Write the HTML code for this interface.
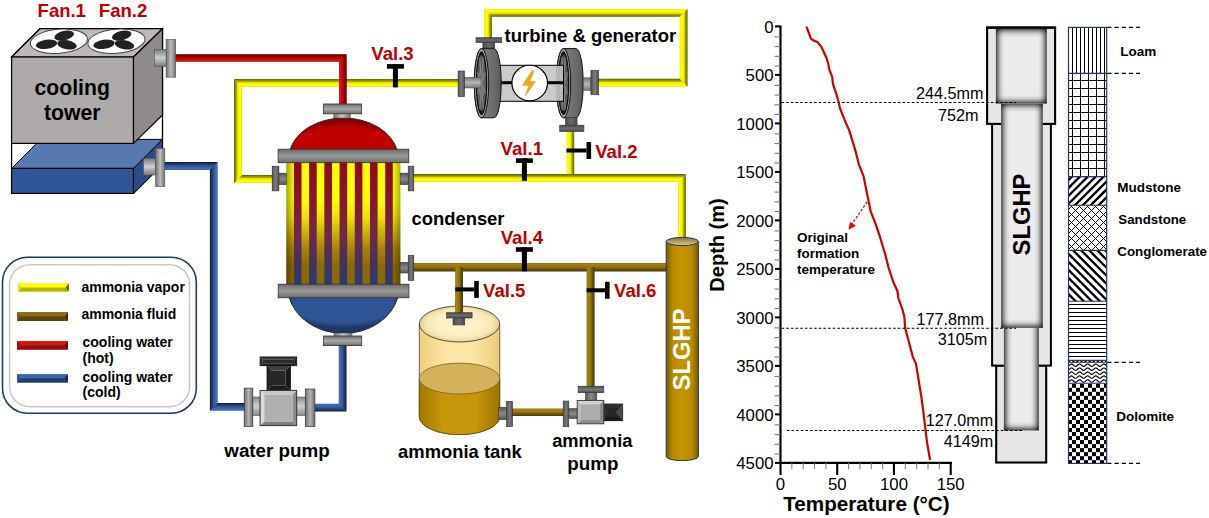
<!DOCTYPE html>
<html><head><meta charset="utf-8"><title>SLGHP system</title>
<style>
html,body{margin:0;padding:0;background:#fff;width:1209px;height:518px;overflow:hidden;}
svg{display:block;}
text{font-family:"Liberation Sans",sans-serif;}
</style></head><body>
<svg width="1209" height="518" viewBox="0 0 1209 518">
<defs><linearGradient id="g1" gradientUnits="userSpaceOnUse" x1="0" y1="175" x2="0" y2="183"><stop offset="0" stop-color="#5e5e00"/><stop offset="0.28" stop-color="#a2a200"/><stop offset="0.5" stop-color="#f4f400"/><stop offset="0.85" stop-color="#ffff00"/><stop offset="1" stop-color="#e6e600"/></linearGradient>
<linearGradient id="g2" gradientUnits="userSpaceOnUse" x1="234" y1="0" x2="242" y2="0"><stop offset="0" stop-color="#5e5e00"/><stop offset="0.28" stop-color="#a2a200"/><stop offset="0.5" stop-color="#f4f400"/><stop offset="0.85" stop-color="#ffff00"/><stop offset="1" stop-color="#e6e600"/></linearGradient>
<linearGradient id="g3" gradientUnits="userSpaceOnUse" x1="0" y1="79" x2="0" y2="87"><stop offset="0" stop-color="#5e5e00"/><stop offset="0.28" stop-color="#a2a200"/><stop offset="0.5" stop-color="#f4f400"/><stop offset="0.85" stop-color="#ffff00"/><stop offset="1" stop-color="#e6e600"/></linearGradient>
<linearGradient id="g4" gradientUnits="userSpaceOnUse" x1="0" y1="54.2" x2="0" y2="61.8"><stop offset="0" stop-color="#5a0000"/><stop offset="0.28" stop-color="#8e0000"/><stop offset="0.5" stop-color="#c00000"/><stop offset="0.85" stop-color="#d81818"/><stop offset="1" stop-color="#b80000"/></linearGradient>
<linearGradient id="g5" gradientUnits="userSpaceOnUse" x1="346.7" y1="0" x2="339.1" y2="0"><stop offset="0" stop-color="#5a0000"/><stop offset="0.28" stop-color="#8e0000"/><stop offset="0.5" stop-color="#c00000"/><stop offset="0.85" stop-color="#d81818"/><stop offset="1" stop-color="#b80000"/></linearGradient>
<linearGradient id="g6" gradientUnits="userSpaceOnUse" x1="491.95" y1="0" x2="484.05" y2="0"><stop offset="0" stop-color="#5e5e00"/><stop offset="0.28" stop-color="#a2a200"/><stop offset="0.5" stop-color="#f4f400"/><stop offset="0.85" stop-color="#ffff00"/><stop offset="1" stop-color="#e6e600"/></linearGradient>
<linearGradient id="g7" gradientUnits="userSpaceOnUse" x1="0" y1="16.85" x2="0" y2="8.95"><stop offset="0" stop-color="#5e5e00"/><stop offset="0.28" stop-color="#a2a200"/><stop offset="0.5" stop-color="#f4f400"/><stop offset="0.85" stop-color="#ffff00"/><stop offset="1" stop-color="#e6e600"/></linearGradient>
<linearGradient id="g8" gradientUnits="userSpaceOnUse" x1="687.55" y1="0" x2="679.65" y2="0"><stop offset="0" stop-color="#5e5e00"/><stop offset="0.28" stop-color="#a2a200"/><stop offset="0.5" stop-color="#f4f400"/><stop offset="0.85" stop-color="#ffff00"/><stop offset="1" stop-color="#e6e600"/></linearGradient>
<linearGradient id="g9" gradientUnits="userSpaceOnUse" x1="0" y1="78.75" x2="0" y2="86.65"><stop offset="0" stop-color="#5e5e00"/><stop offset="0.28" stop-color="#a2a200"/><stop offset="0.5" stop-color="#f4f400"/><stop offset="0.85" stop-color="#ffff00"/><stop offset="1" stop-color="#e6e600"/></linearGradient>
<linearGradient id="g10" gradientUnits="userSpaceOnUse" x1="574.2" y1="0" x2="566.6" y2="0"><stop offset="0" stop-color="#5e5e00"/><stop offset="0.28" stop-color="#a2a200"/><stop offset="0.5" stop-color="#f4f400"/><stop offset="0.85" stop-color="#ffff00"/><stop offset="1" stop-color="#e6e600"/></linearGradient>
<linearGradient id="g11" gradientUnits="userSpaceOnUse" x1="0" y1="174.1" x2="0" y2="181.9"><stop offset="0" stop-color="#5e5e00"/><stop offset="0.28" stop-color="#a2a200"/><stop offset="0.5" stop-color="#f4f400"/><stop offset="0.85" stop-color="#ffff00"/><stop offset="1" stop-color="#e6e600"/></linearGradient>
<linearGradient id="g12" gradientUnits="userSpaceOnUse" x1="685.9" y1="0" x2="678.1" y2="0"><stop offset="0" stop-color="#5e5e00"/><stop offset="0.28" stop-color="#a2a200"/><stop offset="0.5" stop-color="#f4f400"/><stop offset="0.85" stop-color="#ffff00"/><stop offset="1" stop-color="#e6e600"/></linearGradient>
<linearGradient id="g13" gradientUnits="userSpaceOnUse" x1="0" y1="271.5" x2="0" y2="262.9"><stop offset="0" stop-color="#4a3808"/><stop offset="0.28" stop-color="#6a5210"/><stop offset="0.5" stop-color="#937212"/><stop offset="0.85" stop-color="#a48218"/><stop offset="1" stop-color="#8a6c14"/></linearGradient>
<linearGradient id="g14" gradientUnits="userSpaceOnUse" x1="463" y1="0" x2="455.2" y2="0"><stop offset="0" stop-color="#4a3808"/><stop offset="0.28" stop-color="#6a5210"/><stop offset="0.5" stop-color="#937212"/><stop offset="0.85" stop-color="#a48218"/><stop offset="1" stop-color="#8a6c14"/></linearGradient>
<linearGradient id="g15" gradientUnits="userSpaceOnUse" x1="594.6" y1="0" x2="586.6" y2="0"><stop offset="0" stop-color="#4a3808"/><stop offset="0.28" stop-color="#6a5210"/><stop offset="0.5" stop-color="#937212"/><stop offset="0.85" stop-color="#a48218"/><stop offset="1" stop-color="#8a6c14"/></linearGradient>
<linearGradient id="g16" gradientUnits="userSpaceOnUse" x1="0" y1="416" x2="0" y2="408.4"><stop offset="0" stop-color="#4a3808"/><stop offset="0.28" stop-color="#6a5210"/><stop offset="0.5" stop-color="#937212"/><stop offset="0.85" stop-color="#a48218"/><stop offset="1" stop-color="#8a6c14"/></linearGradient>
<linearGradient id="g17" gradientUnits="userSpaceOnUse" x1="0" y1="162.1" x2="0" y2="169.9"><stop offset="0" stop-color="#0e1830"/><stop offset="0.28" stop-color="#233d6c"/><stop offset="0.5" stop-color="#2f5597"/><stop offset="0.85" stop-color="#4670bc"/><stop offset="1" stop-color="#3a62aa"/></linearGradient>
<linearGradient id="g18" gradientUnits="userSpaceOnUse" x1="209.9" y1="0" x2="217.7" y2="0"><stop offset="0" stop-color="#0e1830"/><stop offset="0.28" stop-color="#233d6c"/><stop offset="0.5" stop-color="#2f5597"/><stop offset="0.85" stop-color="#4670bc"/><stop offset="1" stop-color="#3a62aa"/></linearGradient>
<linearGradient id="g19" gradientUnits="userSpaceOnUse" x1="0" y1="402.9" x2="0" y2="410.7"><stop offset="0" stop-color="#0e1830"/><stop offset="0.28" stop-color="#233d6c"/><stop offset="0.5" stop-color="#2f5597"/><stop offset="0.85" stop-color="#4670bc"/><stop offset="1" stop-color="#3a62aa"/></linearGradient>
<linearGradient id="g20" gradientUnits="userSpaceOnUse" x1="0" y1="411.6" x2="0" y2="403.8"><stop offset="0" stop-color="#0e1830"/><stop offset="0.28" stop-color="#233d6c"/><stop offset="0.5" stop-color="#2f5597"/><stop offset="0.85" stop-color="#4670bc"/><stop offset="1" stop-color="#3a62aa"/></linearGradient>
<linearGradient id="g21" gradientUnits="userSpaceOnUse" x1="346.5" y1="0" x2="338.7" y2="0"><stop offset="0" stop-color="#0e1830"/><stop offset="0.28" stop-color="#233d6c"/><stop offset="0.5" stop-color="#2f5597"/><stop offset="0.85" stop-color="#4670bc"/><stop offset="1" stop-color="#3a62aa"/></linearGradient>
<linearGradient id="g22" gradientUnits="userSpaceOnUse" x1="0" y1="49.4" x2="0" y2="66.4"><stop offset="0" stop-color="#7a7a7a"/><stop offset="0.5" stop-color="#cfcfcf"/><stop offset="1" stop-color="#7a7a7a"/></linearGradient>
<linearGradient id="g23" gradientUnits="userSpaceOnUse" x1="166.1" y1="0" x2="175.7" y2="0"><stop offset="0" stop-color="#6e6e6e"/><stop offset="0.5" stop-color="#bdbdbd"/><stop offset="1" stop-color="#6e6e6e"/></linearGradient>
<linearGradient id="g24" gradientUnits="userSpaceOnUse" x1="0" y1="158.4" x2="0" y2="175"><stop offset="0" stop-color="#7a7a7a"/><stop offset="0.5" stop-color="#cfcfcf"/><stop offset="1" stop-color="#7a7a7a"/></linearGradient>
<linearGradient id="g25" gradientUnits="userSpaceOnUse" x1="155.6" y1="0" x2="164.8" y2="0"><stop offset="0" stop-color="#6e6e6e"/><stop offset="0.5" stop-color="#bdbdbd"/><stop offset="1" stop-color="#6e6e6e"/></linearGradient>
<linearGradient id="g26" gradientUnits="userSpaceOnUse" x1="0" y1="117" x2="0" y2="150"><stop offset="0" stop-color="#c00000"/><stop offset="1" stop-color="#c00000"/></linearGradient>
<radialGradient id="domeR" cx="0.5" cy="0.75" r="0.6"><stop offset="0.75" stop-color="#c00000"/><stop offset="1" stop-color="#8a0000"/></radialGradient>
<radialGradient id="domeB" cx="0.5" cy="0.25" r="0.6"><stop offset="0.75" stop-color="#2f5597"/><stop offset="1" stop-color="#1d3868"/></radialGradient>
<linearGradient id="g27" gradientUnits="userSpaceOnUse" x1="0" y1="163" x2="0" y2="284"><stop offset="0" stop-color="#ffff00"/><stop offset="0.3" stop-color="#ffff00"/><stop offset="0.45" stop-color="#f0e000"/><stop offset="0.7" stop-color="#a88600"/><stop offset="0.85" stop-color="#8a6a00"/><stop offset="1" stop-color="#8a6a00"/></linearGradient>
<linearGradient id="g28" gradientUnits="userSpaceOnUse" x1="0" y1="163" x2="0" y2="284"><stop offset="0" stop-color="#8e0a1c"/><stop offset="0.3" stop-color="#86162a"/><stop offset="0.6" stop-color="#6e2850"/><stop offset="0.8" stop-color="#4a2e62"/><stop offset="1" stop-color="#2a3a78"/></linearGradient>
<linearGradient id="bodyEdge" x1="0" y1="0" x2="1" y2="0"><stop offset="0" stop-color="#000" stop-opacity="0.35"/><stop offset="0.07" stop-color="#000" stop-opacity="0"/><stop offset="0.93" stop-color="#000" stop-opacity="0"/><stop offset="1" stop-color="#000" stop-opacity="0.3"/></linearGradient>
<linearGradient id="g29" gradientUnits="userSpaceOnUse" x1="0" y1="149.2" x2="0" y2="162.7"><stop offset="0" stop-color="#6a6a6a"/><stop offset="0.5" stop-color="#9c9c9c"/><stop offset="1" stop-color="#6a6a6a"/></linearGradient>
<linearGradient id="g30" gradientUnits="userSpaceOnUse" x1="0" y1="284.2" x2="0" y2="297.8"><stop offset="0" stop-color="#6a6a6a"/><stop offset="0.5" stop-color="#9c9c9c"/><stop offset="1" stop-color="#6a6a6a"/></linearGradient>
<linearGradient id="g31" gradientUnits="userSpaceOnUse" x1="333.8" y1="0" x2="350.3" y2="0"><stop offset="0" stop-color="#777"/><stop offset="0.5" stop-color="#c8c8c8"/><stop offset="1" stop-color="#777"/></linearGradient>
<linearGradient id="g32" gradientUnits="userSpaceOnUse" x1="0" y1="104" x2="0" y2="113.8"><stop offset="0" stop-color="#6e6e6e"/><stop offset="0.5" stop-color="#a8a8a8"/><stop offset="1" stop-color="#6e6e6e"/></linearGradient>
<linearGradient id="g33" gradientUnits="userSpaceOnUse" x1="334" y1="0" x2="352" y2="0"><stop offset="0" stop-color="#777"/><stop offset="0.5" stop-color="#c8c8c8"/><stop offset="1" stop-color="#777"/></linearGradient>
<linearGradient id="g34" gradientUnits="userSpaceOnUse" x1="0" y1="336" x2="0" y2="345.6"><stop offset="0" stop-color="#6e6e6e"/><stop offset="0.5" stop-color="#a8a8a8"/><stop offset="1" stop-color="#6e6e6e"/></linearGradient>
<linearGradient id="g35" gradientUnits="userSpaceOnUse" x1="0" y1="173.1" x2="0" y2="184.7"><stop offset="0" stop-color="#555"/><stop offset="0.5" stop-color="#8a8a8a"/><stop offset="1" stop-color="#555"/></linearGradient>
<linearGradient id="g36" gradientUnits="userSpaceOnUse" x1="272.2" y1="0" x2="278.9" y2="0"><stop offset="0" stop-color="#505050"/><stop offset="0.5" stop-color="#7c7c7c"/><stop offset="1" stop-color="#505050"/></linearGradient>
<linearGradient id="g37" gradientUnits="userSpaceOnUse" x1="0" y1="173.1" x2="0" y2="184.7"><stop offset="0" stop-color="#555"/><stop offset="0.5" stop-color="#8a8a8a"/><stop offset="1" stop-color="#555"/></linearGradient>
<linearGradient id="g38" gradientUnits="userSpaceOnUse" x1="408.2" y1="0" x2="413.8" y2="0"><stop offset="0" stop-color="#505050"/><stop offset="0.5" stop-color="#7c7c7c"/><stop offset="1" stop-color="#505050"/></linearGradient>
<linearGradient id="g39" gradientUnits="userSpaceOnUse" x1="0" y1="262.3" x2="0" y2="273"><stop offset="0" stop-color="#555"/><stop offset="0.5" stop-color="#8a8a8a"/><stop offset="1" stop-color="#555"/></linearGradient>
<linearGradient id="g40" gradientUnits="userSpaceOnUse" x1="408.2" y1="0" x2="413.8" y2="0"><stop offset="0" stop-color="#505050"/><stop offset="0.5" stop-color="#7c7c7c"/><stop offset="1" stop-color="#505050"/></linearGradient>
<linearGradient id="g41" gradientUnits="userSpaceOnUse" x1="556.3" y1="0" x2="583.2" y2="0"><stop offset="0" stop-color="#5a5a5a"/><stop offset="0.4" stop-color="#7a7a7a"/><stop offset="0.75" stop-color="#6a6a6a"/><stop offset="1" stop-color="#5a5a5a"/></linearGradient>
<linearGradient id="g42" gradientUnits="userSpaceOnUse" x1="474.3" y1="0" x2="501.2" y2="0"><stop offset="0" stop-color="#5a5a5a"/><stop offset="0.4" stop-color="#7a7a7a"/><stop offset="0.75" stop-color="#6a6a6a"/><stop offset="1" stop-color="#5a5a5a"/></linearGradient>
<linearGradient id="g43" gradientUnits="userSpaceOnUse" x1="0" y1="77.3" x2="0" y2="88"><stop offset="0" stop-color="#777"/><stop offset="0.5" stop-color="#b8b8b8"/><stop offset="1" stop-color="#777"/></linearGradient>
<linearGradient id="g44" gradientUnits="userSpaceOnUse" x1="458.1" y1="0" x2="464.5" y2="0"><stop offset="0" stop-color="#505050"/><stop offset="0.5" stop-color="#7c7c7c"/><stop offset="1" stop-color="#505050"/></linearGradient>
<linearGradient id="g45" gradientUnits="userSpaceOnUse" x1="0" y1="77.8" x2="0" y2="90.5"><stop offset="0" stop-color="#777"/><stop offset="0.5" stop-color="#b8b8b8"/><stop offset="1" stop-color="#777"/></linearGradient>
<linearGradient id="g46" gradientUnits="userSpaceOnUse" x1="590.9" y1="0" x2="598.7" y2="0"><stop offset="0" stop-color="#505050"/><stop offset="0.5" stop-color="#7c7c7c"/><stop offset="1" stop-color="#505050"/></linearGradient>
<linearGradient id="g47" gradientUnits="userSpaceOnUse" x1="482.8" y1="0" x2="494.8" y2="0"><stop offset="0" stop-color="#4a4a4a"/><stop offset="0.5" stop-color="#6a6a6a"/><stop offset="1" stop-color="#4a4a4a"/></linearGradient>
<linearGradient id="g48" gradientUnits="userSpaceOnUse" x1="0" y1="37.7" x2="0" y2="42.6"><stop offset="0" stop-color="#4a4a4a"/><stop offset="0.5" stop-color="#6c6c6c"/><stop offset="1" stop-color="#4a4a4a"/></linearGradient>
<linearGradient id="g49" gradientUnits="userSpaceOnUse" x1="565.4" y1="0" x2="577.1" y2="0"><stop offset="0" stop-color="#4a4a4a"/><stop offset="0.5" stop-color="#6a6a6a"/><stop offset="1" stop-color="#4a4a4a"/></linearGradient>
<linearGradient id="g50" gradientUnits="userSpaceOnUse" x1="0" y1="125.2" x2="0" y2="131.5"><stop offset="0" stop-color="#4a4a4a"/><stop offset="0.5" stop-color="#6c6c6c"/><stop offset="1" stop-color="#4a4a4a"/></linearGradient>
<linearGradient id="tankUp" x1="0" y1="0" x2="1" y2="0"><stop offset="0" stop-color="#f0cf78"/><stop offset="0.35" stop-color="#fde7a8"/><stop offset="0.65" stop-color="#fde7a8"/><stop offset="1" stop-color="#eccb78"/></linearGradient>
<linearGradient id="tankLo" x1="0" y1="0" x2="1" y2="0"><stop offset="0" stop-color="#a07800"/><stop offset="0.3" stop-color="#c8960a"/><stop offset="0.7" stop-color="#c8960a"/><stop offset="1" stop-color="#9a7400"/></linearGradient>
<radialGradient id="tankTop" cx="0.5" cy="0.5" r="0.5"><stop offset="0.55" stop-color="#fdf0c4"/><stop offset="0.85" stop-color="#f6e6b0"/><stop offset="1" stop-color="#dccb90"/></radialGradient>
<linearGradient id="g51" gradientUnits="userSpaceOnUse" x1="463" y1="0" x2="455.2" y2="0"><stop offset="0" stop-color="#4a3808"/><stop offset="0.28" stop-color="#6a5210"/><stop offset="0.5" stop-color="#937212"/><stop offset="0.85" stop-color="#a48218"/><stop offset="1" stop-color="#8a6c14"/></linearGradient>
<linearGradient id="g52" gradientUnits="userSpaceOnUse" x1="453" y1="0" x2="464.8" y2="0"><stop offset="0" stop-color="#4a4a4a"/><stop offset="0.5" stop-color="#6a6a6a"/><stop offset="1" stop-color="#4a4a4a"/></linearGradient>
<linearGradient id="g53" gradientUnits="userSpaceOnUse" x1="0" y1="312.7" x2="0" y2="318"><stop offset="0" stop-color="#4a4a4a"/><stop offset="0.5" stop-color="#6c6c6c"/><stop offset="1" stop-color="#4a4a4a"/></linearGradient>
<linearGradient id="g54" gradientUnits="userSpaceOnUse" x1="0" y1="407.2" x2="0" y2="419.7"><stop offset="0" stop-color="#555"/><stop offset="0.5" stop-color="#8a8a8a"/><stop offset="1" stop-color="#555"/></linearGradient>
<linearGradient id="g55" gradientUnits="userSpaceOnUse" x1="506.5" y1="0" x2="512.5" y2="0"><stop offset="0" stop-color="#505050"/><stop offset="0.5" stop-color="#7c7c7c"/><stop offset="1" stop-color="#505050"/></linearGradient>
<linearGradient id="g56" gradientUnits="userSpaceOnUse" x1="0" y1="408.5" x2="0" y2="418.6"><stop offset="0" stop-color="#555"/><stop offset="0.5" stop-color="#8a8a8a"/><stop offset="1" stop-color="#555"/></linearGradient>
<linearGradient id="g57" gradientUnits="userSpaceOnUse" x1="563.2" y1="0" x2="568.8" y2="0"><stop offset="0" stop-color="#505050"/><stop offset="0.5" stop-color="#7c7c7c"/><stop offset="1" stop-color="#505050"/></linearGradient>
<linearGradient id="g58" gradientUnits="userSpaceOnUse" x1="585.3" y1="0" x2="596.8" y2="0"><stop offset="0" stop-color="#555"/><stop offset="0.5" stop-color="#8a8a8a"/><stop offset="1" stop-color="#555"/></linearGradient>
<linearGradient id="g59" gradientUnits="userSpaceOnUse" x1="0" y1="386.2" x2="0" y2="392.7"><stop offset="0" stop-color="#4f4f4f"/><stop offset="0.5" stop-color="#777"/><stop offset="1" stop-color="#4f4f4f"/></linearGradient>
<linearGradient id="g60" gradientUnits="userSpaceOnUse" x1="0" y1="397" x2="0" y2="415.6"><stop offset="0" stop-color="#8a8a8a"/><stop offset="0.5" stop-color="#d0d0d0"/><stop offset="1" stop-color="#8a8a8a"/></linearGradient>
<linearGradient id="g61" gradientUnits="userSpaceOnUse" x1="0" y1="397" x2="0" y2="415.6"><stop offset="0" stop-color="#8a8a8a"/><stop offset="0.5" stop-color="#d0d0d0"/><stop offset="1" stop-color="#8a8a8a"/></linearGradient>
<linearGradient id="g62" gradientUnits="userSpaceOnUse" x1="244.2" y1="0" x2="252.8" y2="0"><stop offset="0" stop-color="#6e6e6e"/><stop offset="0.5" stop-color="#b4b4b4"/><stop offset="1" stop-color="#6e6e6e"/></linearGradient>
<linearGradient id="g63" gradientUnits="userSpaceOnUse" x1="305.3" y1="0" x2="314.9" y2="0"><stop offset="0" stop-color="#6e6e6e"/><stop offset="0.5" stop-color="#b4b4b4"/><stop offset="1" stop-color="#6e6e6e"/></linearGradient>
<linearGradient id="slg" x1="0" y1="0" x2="1" y2="0"><stop offset="0" stop-color="#7a5c00"/><stop offset="0.2" stop-color="#b88a00"/><stop offset="0.5" stop-color="#c69400"/><stop offset="0.8" stop-color="#b88a00"/><stop offset="1" stop-color="#7a5c00"/></linearGradient>
<linearGradient id="slgTop" x1="0" y1="0" x2="0" y2="1"><stop offset="0" stop-color="#8a6e30"/><stop offset="1" stop-color="#e0cc90"/></linearGradient>
<linearGradient id="shL" x1="0" y1="0" x2="1" y2="0"><stop offset="0" stop-color="#000" stop-opacity="0.72"/><stop offset="0.25" stop-color="#000" stop-opacity="0.42"/><stop offset="0.6" stop-color="#000" stop-opacity="0.12"/><stop offset="1" stop-color="#000" stop-opacity="0"/></linearGradient>
<linearGradient id="shR" x1="1" y1="0" x2="0" y2="0"><stop offset="0" stop-color="#000" stop-opacity="0.72"/><stop offset="0.25" stop-color="#000" stop-opacity="0.42"/><stop offset="0.6" stop-color="#000" stop-opacity="0.12"/><stop offset="1" stop-color="#000" stop-opacity="0"/></linearGradient>
<linearGradient id="shT" x1="0" y1="0" x2="0" y2="1"><stop offset="0" stop-color="#000" stop-opacity="0.72"/><stop offset="0.25" stop-color="#000" stop-opacity="0.42"/><stop offset="0.6" stop-color="#000" stop-opacity="0.12"/><stop offset="1" stop-color="#000" stop-opacity="0"/></linearGradient>
<linearGradient id="shB" x1="0" y1="1" x2="0" y2="0"><stop offset="0" stop-color="#000" stop-opacity="0.72"/><stop offset="0.25" stop-color="#000" stop-opacity="0.42"/><stop offset="0.6" stop-color="#000" stop-opacity="0.12"/><stop offset="1" stop-color="#000" stop-opacity="0"/></linearGradient>
<clipPath id="cMud"><rect x="1068.5" y="176.6" width="38.2" height="28.6"/></clipPath>
<clipPath id="cSand"><rect x="1068.5" y="205.2" width="38.2" height="45.4"/></clipPath>
<clipPath id="cCong"><rect x="1068.5" y="250.6" width="38.2" height="50.5"/></clipPath>
<clipPath id="cWave"><rect x="1068.5" y="362.6" width="38.2" height="20.7"/></clipPath>
<clipPath id="cChk"><rect x="1068.5" y="383.6" width="38.2" height="79.9"/></clipPath></defs>
<rect width="1209" height="518" fill="#fff"/>
<polyline points="273,179 238,179 238,83 459,83" fill="none" stroke="#f4f400" stroke-width="6.8" stroke-linejoin="miter"/>
<polygon points="273,175 242,175 234,183 273,183" fill="url(#g1)"/>
<polygon points="242,175 242,87 234,79 234,183" fill="url(#g2)"/>
<polygon points="242,87 459,87 459,79 234,79" fill="url(#g3)"/>
<polyline points="175,58 342.9,58 342.9,105" fill="none" stroke="#c00000" stroke-width="6.4" stroke-linejoin="miter"/>
<polygon points="175,61.8 339.1,61.8 346.7,54.2 175,54.2" fill="url(#g4)"/>
<polygon points="339.1,61.8 339.1,105 346.7,105 346.7,54.2" fill="url(#g5)"/>
<polyline points="488,39 488,12.9 683.6,12.9 683.6,82.7 598,82.7" fill="none" stroke="#f4f400" stroke-width="6.7" stroke-linejoin="miter"/>
<polygon points="491.95,39 491.95,16.85 484.05,8.95 484.05,39" fill="url(#g6)"/>
<polygon points="491.95,16.85 679.65,16.85 687.55,8.95 484.05,8.95" fill="url(#g7)"/>
<polygon points="679.65,16.85 679.65,78.75 687.55,86.65 687.55,8.95" fill="url(#g8)"/>
<polygon points="679.65,78.75 598,78.75 598,86.65 687.55,86.65" fill="url(#g9)"/>
<polyline points="570.4,131 570.4,178" fill="none" stroke="#f4f400" stroke-width="6.4" stroke-linejoin="miter"/>
<polygon points="566.6,131 566.6,178 574.2,178 574.2,131" fill="url(#g10)"/>
<polyline points="412,178 682,178 682,240" fill="none" stroke="#f4f400" stroke-width="6.6" stroke-linejoin="miter"/>
<polygon points="412,181.9 678.1,181.9 685.9,174.1 412,174.1" fill="url(#g11)"/>
<polygon points="678.1,181.9 678.1,240 685.9,240 685.9,174.1" fill="url(#g12)"/>
<polyline points="412,267.2 667,267.2" fill="none" stroke="#937212" stroke-width="7.4" stroke-linejoin="miter"/>
<polygon points="412,271.5 667,271.5 667,262.9 412,262.9" fill="url(#g13)"/>
<polyline points="459.1,267.2 459.1,314" fill="none" stroke="#937212" stroke-width="6.6" stroke-linejoin="miter"/>
<polygon points="455.2,267.2 455.2,314 463,314 463,267.2" fill="url(#g14)"/>
<polyline points="590.6,267.2 590.6,387" fill="none" stroke="#937212" stroke-width="6.8" stroke-linejoin="miter"/>
<polygon points="586.6,267.2 586.6,387 594.6,387 594.6,267.2" fill="url(#g15)"/>
<polyline points="511,412.2 564,412.2" fill="none" stroke="#937212" stroke-width="6.4" stroke-linejoin="miter"/>
<polygon points="511,416 564,416 564,408.4 511,408.4" fill="url(#g16)"/>
<polyline points="164,166 213.8,166 213.8,406.8 245,406.8" fill="none" stroke="#2f5597" stroke-width="6.6" stroke-linejoin="miter"/>
<polygon points="164,169.9 209.9,169.9 217.7,162.1 164,162.1" fill="url(#g17)"/>
<polygon points="209.9,169.9 209.9,410.7 217.7,402.9 217.7,162.1" fill="url(#g18)"/>
<polygon points="209.9,410.7 245,410.7 245,402.9 217.7,402.9" fill="url(#g19)"/>
<polyline points="314,407.7 342.6,407.7 342.6,345" fill="none" stroke="#2f5597" stroke-width="6.6" stroke-linejoin="miter"/>
<polygon points="314,411.6 346.5,411.6 338.7,403.8 314,403.8" fill="url(#g20)"/>
<polygon points="346.5,411.6 346.5,345 338.7,345 338.7,403.8" fill="url(#g21)"/>
<polygon points="11.6,57 40,28.7 162.5,28.7 162.5,164.5 133.5,193.4 11.6,193.4" fill="#fff" stroke="#000" stroke-width="1.3"/>
<polygon points="11.6,168.4 40.5,139.4 162.5,139.4 133.5,168.4" fill="#5878b2" stroke="#000" stroke-width="1"/>
<rect x="11.6" y="168.4" width="121.9" height="25" fill="#2f5597" stroke="#000" stroke-width="1.2"/>
<polygon points="133.5,168.4 162.5,139.4 162.5,164.5 133.5,193.4" fill="#294b8a" stroke="#000" stroke-width="1"/>
<polygon points="11.6,57 40,28.7 162.5,28.7 133.5,57" fill="#bdb9b9" stroke="#000" stroke-width="1.2"/>
<rect x="11.6" y="57" width="121.9" height="86.4" fill="#aeaaaa" stroke="#000" stroke-width="1.2"/>
<polygon points="133.5,57 162.5,28.7 162.5,114.9 133.5,143.4" fill="#8f8b8b" stroke="#000" stroke-width="1.2"/>
<ellipse cx="58.9" cy="41.3" rx="28.7" ry="12" fill="#fff" stroke="#444" stroke-width="1" transform="rotate(-5 58.9 41.3)"/>
<g fill="#222" transform="translate(58.9,41.2)"><ellipse cx="5.3" cy="-5.6" rx="10" ry="4.7" transform="rotate(-14 5.3 -5.6)"/><ellipse cx="-12.4" cy="3.1" rx="10.8" ry="4.5" transform="rotate(-8 -12.4 3.1)"/><ellipse cx="8.1" cy="3.6" rx="9.9" ry="4.5" transform="rotate(10 8.1 3.6)"/></g>
<ellipse cx="116.4" cy="41.3" rx="28.7" ry="12" fill="#fff" stroke="#444" stroke-width="1" transform="rotate(-5 116.4 41.3)"/>
<g fill="#222" transform="translate(116.4,41.2)"><ellipse cx="5.3" cy="-5.6" rx="10" ry="4.7" transform="rotate(-14 5.3 -5.6)"/><ellipse cx="-12.4" cy="3.1" rx="10.8" ry="4.5" transform="rotate(-8 -12.4 3.1)"/><ellipse cx="8.1" cy="3.6" rx="9.9" ry="4.5" transform="rotate(10 8.1 3.6)"/></g>
<text x="72.2" y="94.9" font-size="21.2" font-weight="bold" fill="#000" text-anchor="middle" >cooling</text>
<text x="72.2" y="119.6" font-size="21.2" font-weight="bold" fill="#000" text-anchor="middle" >tower</text>
<rect x="154.4" y="49.4" width="12" height="17" fill="url(#g22)" stroke="#555" stroke-width="0.6"/>
<rect x="166.1" y="39.4" width="9.6" height="37.8" fill="url(#g23)" stroke="#555" stroke-width="0.6"/>
<rect x="143.5" y="158.4" width="12.1" height="16.6" fill="url(#g24)" stroke="#555" stroke-width="0.6"/>
<rect x="155.6" y="148.4" width="9.2" height="38.2" fill="url(#g25)" stroke="#555" stroke-width="0.6"/>
<text x="37.6" y="16.7" font-size="18.5" font-weight="bold" fill="#c00000" text-anchor="start" >Fan.1</text>
<text x="98.8" y="16.7" font-size="18.6" font-weight="bold" fill="#c00000" text-anchor="start" >Fan.2</text>
<path d="M289.6,151 A55,41.2 0 0 1 397.4,151 Z" fill="url(#domeR)" stroke="#222" stroke-width="1"/>
<path d="M288.9,296.5 A56,47.5 0 0 0 398.1,296.5 Z" fill="url(#domeB)" stroke="#222" stroke-width="1"/>
<rect x="286.3" y="162" width="114.1" height="123" fill="url(#g27)"/>
<rect x="293.91" y="162" width="7.61" height="123" fill="url(#g28)"/>
<rect x="309.12" y="162" width="7.61" height="123" fill="url(#g28)"/>
<rect x="324.33" y="162" width="7.61" height="123" fill="url(#g28)"/>
<rect x="339.55" y="162" width="7.61" height="123" fill="url(#g28)"/>
<rect x="354.76" y="162" width="7.61" height="123" fill="url(#g28)"/>
<rect x="369.97" y="162" width="7.61" height="123" fill="url(#g28)"/>
<rect x="385.19" y="162" width="7.61" height="123" fill="url(#g28)"/>
<rect x="286.3" y="162" width="114.1" height="123" fill="url(#bodyEdge)"/>
<rect x="278.1" y="149.2" width="130.7" height="13.5" fill="url(#g29)" stroke="#333" stroke-width="0.8"/>
<rect x="278.2" y="284.2" width="130.7" height="13.6" fill="url(#g30)" stroke="#333" stroke-width="0.8"/>
<rect x="333.8" y="113" width="16.5" height="5" fill="url(#g31)" stroke="#444" stroke-width="0.5"/>
<rect x="323.4" y="104" width="38.2" height="9.8" fill="url(#g32)" stroke="#333" stroke-width="0.8"/>
<rect x="334" y="333" width="18" height="3.5" fill="url(#g33)" stroke="#444" stroke-width="0.5"/>
<rect x="323.4" y="336" width="38.3" height="9.6" fill="url(#g34)" stroke="#333" stroke-width="0.8"/>
<rect x="278.9" y="173.1" width="7.6" height="11.6" fill="url(#g35)" stroke="#333" stroke-width="0.5"/>
<rect x="272.2" y="166.2" width="6.7" height="24.7" fill="url(#g36)" stroke="#333" stroke-width="0.6"/>
<rect x="400.2" y="173.1" width="8" height="11.6" fill="url(#g37)" stroke="#333" stroke-width="0.5"/>
<rect x="408.2" y="166.2" width="5.6" height="24.7" fill="url(#g38)" stroke="#333" stroke-width="0.6"/>
<rect x="400.2" y="262.3" width="8" height="10.7" fill="url(#g39)" stroke="#333" stroke-width="0.5"/>
<rect x="408.2" y="255.3" width="5.6" height="25.1" fill="url(#g40)" stroke="#333" stroke-width="0.6"/>
<text x="411.5" y="225.2" font-size="18.4" font-weight="bold" fill="#000" text-anchor="start" >condenser</text>
<path d="M563.5,48.6 L576,48.6 A7.2,34.6 0 0 1 576,117.8 L563.5,117.8 A7.2,34.6 0 0 1 563.5,48.6 Z" fill="url(#g41)" stroke="#111" stroke-width="1"/>
<ellipse cx="563.5" cy="83.2" rx="7.2" ry="34.6" fill="#a8a8a8" stroke="#111" stroke-width="1"/>
<ellipse cx="563.5" cy="83.2" rx="5.8" ry="32" fill="#111"/>
<ellipse cx="563.5" cy="83.2" rx="4.5" ry="28.1" fill="#585858"/>
<path d="M563.5,83.2 L567.66,93.95 M563.5,83.2 L565.22,109.16 M563.5,83.2 L561.78,109.16 M563.5,83.2 L559.34,93.95 M563.5,83.2 L559.34,72.45 M563.5,83.2 L561.78,57.24 M563.5,83.2 L565.22,57.24 M563.5,83.2 L567.66,72.45" stroke="#a0a0a0" stroke-width="0.7" fill="none"/>
<ellipse cx="563.5" cy="83.2" rx="2.48" ry="15.46" fill="none" stroke="#8a8a8a" stroke-width="0.6"/>
<rect x="495" y="65.3" width="68.5" height="36" fill="#c4c4c4" fill-opacity="0.88" stroke="#000" stroke-width="1"/>
<rect x="495" y="81.2" width="68.5" height="3" fill="#000"/>
<path d="M481.5,48.6 L494,48.6 A7.2,34.6 0 0 1 494,117.8 L481.5,117.8 A7.2,34.6 0 0 1 481.5,48.6 Z" fill="url(#g42)" stroke="#111" stroke-width="1"/>
<ellipse cx="481.5" cy="83.2" rx="7.2" ry="34.6" fill="#a8a8a8" stroke="#111" stroke-width="1"/>
<ellipse cx="481.5" cy="83.2" rx="5.8" ry="32" fill="#111"/>
<ellipse cx="481.5" cy="83.2" rx="4.5" ry="28.1" fill="#585858"/>
<path d="M481.5,83.2 L485.66,93.95 M481.5,83.2 L483.22,109.16 M481.5,83.2 L479.78,109.16 M481.5,83.2 L477.34,93.95 M481.5,83.2 L477.34,72.45 M481.5,83.2 L479.78,57.24 M481.5,83.2 L483.22,57.24 M481.5,83.2 L485.66,72.45" stroke="#a0a0a0" stroke-width="0.7" fill="none"/>
<ellipse cx="481.5" cy="83.2" rx="2.48" ry="15.46" fill="none" stroke="#8a8a8a" stroke-width="0.6"/>
<rect x="464.5" y="77.3" width="16.5" height="10.7" fill="url(#g43)" stroke="#444" stroke-width="0.5"/>
<rect x="458.1" y="71" width="6.4" height="25.6" fill="url(#g44)" stroke="#333" stroke-width="0.6"/>
<rect x="583.5" y="77.8" width="7.4" height="12.7" fill="url(#g45)" stroke="#444" stroke-width="0.5"/>
<rect x="590.9" y="70.4" width="7.8" height="24.4" fill="url(#g46)" stroke="#333" stroke-width="0.6"/>
<rect x="482.8" y="42.3" width="12" height="5.7" fill="url(#g47)" stroke="#333" stroke-width="0.5"/>
<rect x="476" y="37.7" width="25.8" height="4.9" fill="url(#g48)" stroke="#333" stroke-width="0.6"/>
<rect x="565.4" y="117.4" width="11.7" height="7.8" fill="url(#g49)" stroke="#333" stroke-width="0.5"/>
<rect x="559.7" y="125.2" width="24.2" height="6.3" fill="url(#g50)" stroke="#333" stroke-width="0.6"/>
<circle cx="529.7" cy="83.05" r="17.8" fill="#fff" stroke="#000" stroke-width="1.2"/>
<path d="M531.6,71 L534.2,71 L529.9,81.5 L535.6,81.5 L525.3,96 L528.6,85.5 L522.3,85.5 Z" fill="#e6a82a" stroke="#e6a82a" stroke-width="0.6" stroke-linejoin="round"/>
<text x="504.6" y="41.9" font-size="18.5" font-weight="bold" fill="#000" text-anchor="start" >turbine &amp; generator</text>
<path d="M419.3,324 L419.3,416.6 A40.2,18 0 0 0 499.7,416.6 L499.7,324 Z" fill="url(#tankUp)" stroke="#555" stroke-width="0.9"/>
<path d="M419.3,378.6 L419.3,416.6 A40.2,18 0 0 0 499.7,416.6 L499.7,378.6 Z" fill="url(#tankLo)" stroke="#6a5200" stroke-width="0.9"/>
<ellipse cx="459.5" cy="378.6" rx="40.2" ry="15.5" fill="#d4b25c" stroke="#7a6020" stroke-width="0.8"/>
<ellipse cx="459.5" cy="324" rx="40.2" ry="18" fill="url(#tankTop)" stroke="#444" stroke-width="0.9"/>
<polyline points="459.1,300 459.1,313.5" fill="none" stroke="#937212" stroke-width="6.6" stroke-linejoin="miter"/>
<polygon points="455.2,300 455.2,313.5 463,313.5 463,300" fill="url(#g51)"/>
<rect x="453" y="317.5" width="11.8" height="7.5" fill="url(#g52)" stroke="#333" stroke-width="0.5"/>
<rect x="446.5" y="312.7" width="25.6" height="5.3" fill="url(#g53)" stroke="#333" stroke-width="0.6"/>
<rect x="498.7" y="407.2" width="7.8" height="12.5" fill="url(#g54)" stroke="#333" stroke-width="0.5"/>
<rect x="506.5" y="401.4" width="6" height="25.3" fill="url(#g55)" stroke="#333" stroke-width="0.6"/>
<text x="459.9" y="458.1" font-size="18.4" font-weight="bold" fill="#000" text-anchor="middle" >ammonia tank</text>
<rect x="568.8" y="408.5" width="8.4" height="10.1" fill="url(#g56)" stroke="#333" stroke-width="0.5"/>
<rect x="563.2" y="401" width="5.6" height="25.8" fill="url(#g57)" stroke="#333" stroke-width="0.6"/>
<rect x="585.3" y="392.7" width="11.5" height="7.7" fill="url(#g58)" stroke="#333" stroke-width="0.5"/>
<rect x="578.1" y="386.2" width="25.7" height="6.5" fill="url(#g59)" stroke="#333" stroke-width="0.6"/>
<rect x="603.8" y="404" width="18.9" height="16.7" fill="#262626" stroke="#111" stroke-width="0.8"/>
<polygon points="603.8,404 622.7,404 618.5,408 608,408" fill="#2e2e2e"/>
<polygon points="603.8,420.7 622.7,420.7 618.5,416.7 608,416.7" fill="#1a1a1a"/>
<polygon points="622.7,404 622.7,420.7 615.5,412.35" fill="#4a4a4a"/>
<polygon points="603.8,404 603.8,420.7 608.5,412.35" fill="#303030"/>
<polygon points="577.2,400.4 603.8,400.4 600,404.2 581,404.2" fill="#d2d2d2"/>
<polygon points="577.2,423.8 603.8,423.8 600,420 581,420" fill="#8e8e8e"/>
<polygon points="577.2,400.4 581,404.2 581,420 577.2,423.8" fill="#bcbcbc"/>
<polygon points="603.8,400.4 600,404.2 600,420 603.8,423.8" fill="#8a8a8a"/>
<rect x="581" y="404.2" width="19" height="15.8" fill="#adadad"/>
<rect x="577.2" y="400.4" width="26.6" height="23.4" fill="none" stroke="#333" stroke-width="0.9"/>
<text x="592.3" y="447.3" font-size="18.3" font-weight="bold" fill="#000" text-anchor="middle" >ammonia</text>
<text x="592.8" y="470.1" font-size="18.8" font-weight="bold" fill="#000" text-anchor="middle" >pump</text>
<rect x="252.8" y="397" width="7.3" height="18.6" fill="url(#g60)" stroke="#444" stroke-width="0.5"/>
<rect x="296.7" y="397" width="8.6" height="18.6" fill="url(#g61)" stroke="#444" stroke-width="0.5"/>
<rect x="244.2" y="388.1" width="8.6" height="38.3" fill="url(#g62)" stroke="#333" stroke-width="0.7"/>
<rect x="305.3" y="389" width="9.6" height="37.4" fill="url(#g63)" stroke="#333" stroke-width="0.7"/>
<polygon points="267,365.5 290.5,365.5 285.5,370.5 272,370.5" fill="#3e3e3e"/>
<polygon points="267,390.6 290.5,390.6 285.5,385.6 272,385.6" fill="#1c1c1c"/>
<polygon points="267,365.5 272,370.5 272,385.6 267,390.6" fill="#262626"/>
<polygon points="290.5,365.5 285.5,370.5 285.5,385.6 290.5,390.6" fill="#181818"/>
<rect x="272" y="370.5" width="13.5" height="15.1" fill="#262626"/>
<rect x="267" y="365.5" width="23.5" height="25.1" fill="none" stroke="#111" stroke-width="0.8"/>
<polygon points="260.1,356.9 296.7,356.9 294.2,359.4 262.6,359.4" fill="#3a3a3a"/>
<polygon points="260.1,365.7 296.7,365.7 294.2,363.2 262.6,363.2" fill="#1e1e1e"/>
<polygon points="260.1,356.9 262.6,359.4 262.6,363.2 260.1,365.7" fill="#2e2e2e"/>
<polygon points="296.7,356.9 294.2,359.4 294.2,363.2 296.7,365.7" fill="#1a1a1a"/>
<rect x="262.6" y="359.4" width="31.6" height="3.8" fill="#2c2c2c"/>
<rect x="260.1" y="356.9" width="36.6" height="8.8" fill="none" stroke="#111" stroke-width="0.8"/>
<polygon points="260.1,390.4 296.7,390.4 292.5,394.6 264.3,394.6" fill="#c8c8c8"/>
<polygon points="260.1,425.6 296.7,425.6 292.5,421.4 264.3,421.4" fill="#7e7e7e"/>
<polygon points="260.1,390.4 264.3,394.6 264.3,421.4 260.1,425.6" fill="#dcdcdc"/>
<polygon points="296.7,390.4 292.5,394.6 292.5,421.4 296.7,425.6" fill="#8c8c8c"/>
<rect x="264.3" y="394.6" width="28.2" height="26.8" fill="#b0b0b0"/>
<rect x="260.1" y="390.4" width="36.6" height="35.2" fill="none" stroke="#333" stroke-width="1"/>
<text x="277" y="456.6" font-size="18.8" font-weight="bold" fill="#000" text-anchor="middle" >water pump</text>
<path d="M666.2,241.5 L666.2,456.5 A16.1,4.1 0 0 0 698.4,456.5 L698.4,241.5 Z" fill="url(#slg)" stroke="#1f3864" stroke-width="1"/>
<ellipse cx="682.3" cy="241.5" rx="16.1" ry="4.1" fill="url(#slgTop)" stroke="#1f3864" stroke-width="1"/>
<text x="0" y="0" font-size="23.8" font-weight="bold" fill="#fff" text-anchor="middle" transform="translate(690.3,349.4) rotate(-90)">SLGHP</text>
<rect x="386.9" y="64.1" width="17" height="4.6" fill="#000"/>
<rect x="392.9" y="64.1" width="5" height="23.3" fill="#000"/>
<rect x="515.9" y="158.3" width="17" height="4.6" fill="#000"/>
<rect x="521.9" y="158.3" width="5" height="22.6" fill="#000"/>
<rect x="515.9" y="247.2" width="17" height="4.6" fill="#000"/>
<rect x="521.9" y="247.2" width="5" height="24.1" fill="#000"/>
<rect x="586.5" y="142" width="4.6" height="17" fill="#000"/>
<rect x="566.5" y="148.5" width="20" height="4" fill="#000"/>
<rect x="474.2" y="280.9" width="4.6" height="17" fill="#000"/>
<rect x="455.3" y="287.4" width="18.9" height="4" fill="#000"/>
<rect x="605" y="281.8" width="4.6" height="17" fill="#000"/>
<rect x="586.6" y="288.3" width="18.4" height="4" fill="#000"/>
<text x="371.3" y="59.5" font-size="18.6" font-weight="bold" fill="#c00000" text-anchor="start" >Val.3</text>
<text x="500.6" y="154.9" font-size="18.6" font-weight="bold" fill="#c00000" text-anchor="start" >Val.1</text>
<text x="595.2" y="157.6" font-size="18.6" font-weight="bold" fill="#c00000" text-anchor="start" >Val.2</text>
<text x="500.7" y="243.5" font-size="18.6" font-weight="bold" fill="#c00000" text-anchor="start" >Val.4</text>
<text x="483" y="296.5" font-size="18.6" font-weight="bold" fill="#c00000" text-anchor="start" >Val.5</text>
<text x="614" y="296.5" font-size="18.6" font-weight="bold" fill="#c00000" text-anchor="start" >Val.6</text>
<rect x="2.5" y="257.2" width="193.8" height="156" rx="25" ry="25" fill="#fff" stroke="#1f3864" stroke-width="1.6"/>
<rect x="9.6" y="264.7" width="180" height="142" rx="20" ry="20" fill="none" stroke="#c8c8c8" stroke-width="1.5"/>
<rect x="18" y="283.4" width="50.8" height="8.2" fill="#f0f000"/>
<polygon points="18,283.4 68.8,283.4 65.6,287.5 21.2,287.5" fill="#ffff00"/>
<polygon points="18,291.6 68.8,291.6 65.6,287.5 21.2,287.5" fill="#b4b400"/>
<polygon points="18,283.4 21.2,287.5 18,291.6" fill="#e8e800"/>
<polygon points="68.8,283.4 65.6,287.5 68.8,291.6" fill="#5e5e00"/>
<rect x="17.1" y="312.2" width="50.9" height="8.7" fill="#7a5e12"/>
<polygon points="17.1,312.2 68,312.2 64.8,316.55 20.3,316.55" fill="#8e6e12"/>
<polygon points="17.1,320.9 68,320.9 64.8,316.55 20.3,316.55" fill="#5a4410"/>
<polygon points="17.1,312.2 20.3,316.55 17.1,320.9" fill="#7a5c10"/>
<polygon points="68,312.2 64.8,316.55 68,320.9" fill="#3a2a06"/>
<rect x="17" y="341.3" width="50.8" height="8.3" fill="#c01010"/>
<polygon points="17,341.3 67.8,341.3 64.6,345.45 20.2,345.45" fill="#e01010"/>
<polygon points="17,349.6 67.8,349.6 64.6,345.45 20.2,345.45" fill="#8a1010"/>
<polygon points="17,341.3 20.2,345.45 17,349.6" fill="#c00000"/>
<polygon points="67.8,341.3 64.6,345.45 67.8,349.6" fill="#5a0000"/>
<rect x="17" y="374.3" width="50.8" height="8.2" fill="#2f5597"/>
<polygon points="17,374.3 67.8,374.3 64.6,378.4 20.2,378.4" fill="#3c66b2"/>
<polygon points="17,382.5 67.8,382.5 64.6,378.4 20.2,378.4" fill="#223c6c"/>
<polygon points="17,374.3 20.2,378.4 17,382.5" fill="#2f5597"/>
<polygon points="67.8,374.3 64.6,378.4 67.8,382.5" fill="#13244a"/>
<text x="81.4" y="291.8" font-size="14" font-weight="bold" fill="#000" text-anchor="start" >ammonia vapor</text>
<text x="81.4" y="319.2" font-size="14" font-weight="bold" fill="#000" text-anchor="start" >ammonia fluid</text>
<text x="82.5" y="347.4" font-size="14" font-weight="bold" fill="#000" text-anchor="start" >cooling water</text>
<text x="82.5" y="363" font-size="14" font-weight="bold" fill="#000" text-anchor="start" >(hot)</text>
<text x="82.5" y="381.6" font-size="14" font-weight="bold" fill="#000" text-anchor="start" >cooling water</text>
<text x="82.5" y="396.9" font-size="14" font-weight="bold" fill="#000" text-anchor="start" >(cold)</text>
<line x1="780.5" y1="25.4" x2="780.5" y2="463.9" stroke="#000" stroke-width="2.2"/>
<line x1="775" y1="26.4" x2="780.5" y2="26.4" stroke="#000" stroke-width="2"/>
<text x="773.6" y="32.5" font-size="16.8" font-weight="normal" fill="#000" text-anchor="end" >0</text>
<line x1="774.5" y1="36.9" x2="780.5" y2="36.9" stroke="#777" stroke-width="1.1"/>
<line x1="774.5" y1="46.6" x2="780.5" y2="46.6" stroke="#777" stroke-width="1.1"/>
<line x1="774.5" y1="56.3" x2="780.5" y2="56.3" stroke="#777" stroke-width="1.1"/>
<line x1="774.5" y1="66" x2="780.5" y2="66" stroke="#777" stroke-width="1.1"/>
<line x1="775" y1="74.9" x2="780.5" y2="74.9" stroke="#000" stroke-width="2"/>
<text x="773.6" y="81" font-size="16.8" font-weight="normal" fill="#000" text-anchor="end" >500</text>
<line x1="774.5" y1="85.4" x2="780.5" y2="85.4" stroke="#777" stroke-width="1.1"/>
<line x1="774.5" y1="95.1" x2="780.5" y2="95.1" stroke="#777" stroke-width="1.1"/>
<line x1="774.5" y1="104.8" x2="780.5" y2="104.8" stroke="#777" stroke-width="1.1"/>
<line x1="774.5" y1="114.5" x2="780.5" y2="114.5" stroke="#777" stroke-width="1.1"/>
<line x1="775" y1="123.4" x2="780.5" y2="123.4" stroke="#000" stroke-width="2"/>
<text x="773.6" y="129.5" font-size="16.8" font-weight="normal" fill="#000" text-anchor="end" >1000</text>
<line x1="774.5" y1="133.9" x2="780.5" y2="133.9" stroke="#777" stroke-width="1.1"/>
<line x1="774.5" y1="143.6" x2="780.5" y2="143.6" stroke="#777" stroke-width="1.1"/>
<line x1="774.5" y1="153.3" x2="780.5" y2="153.3" stroke="#777" stroke-width="1.1"/>
<line x1="774.5" y1="163" x2="780.5" y2="163" stroke="#777" stroke-width="1.1"/>
<line x1="775" y1="171.9" x2="780.5" y2="171.9" stroke="#000" stroke-width="2"/>
<text x="773.6" y="178" font-size="16.8" font-weight="normal" fill="#000" text-anchor="end" >1500</text>
<line x1="774.5" y1="182.4" x2="780.5" y2="182.4" stroke="#777" stroke-width="1.1"/>
<line x1="774.5" y1="192.1" x2="780.5" y2="192.1" stroke="#777" stroke-width="1.1"/>
<line x1="774.5" y1="201.8" x2="780.5" y2="201.8" stroke="#777" stroke-width="1.1"/>
<line x1="774.5" y1="211.5" x2="780.5" y2="211.5" stroke="#777" stroke-width="1.1"/>
<line x1="775" y1="220.4" x2="780.5" y2="220.4" stroke="#000" stroke-width="2"/>
<text x="773.6" y="226.5" font-size="16.8" font-weight="normal" fill="#000" text-anchor="end" >2000</text>
<line x1="774.5" y1="230.9" x2="780.5" y2="230.9" stroke="#777" stroke-width="1.1"/>
<line x1="774.5" y1="240.6" x2="780.5" y2="240.6" stroke="#777" stroke-width="1.1"/>
<line x1="774.5" y1="250.3" x2="780.5" y2="250.3" stroke="#777" stroke-width="1.1"/>
<line x1="774.5" y1="260" x2="780.5" y2="260" stroke="#777" stroke-width="1.1"/>
<line x1="775" y1="268.9" x2="780.5" y2="268.9" stroke="#000" stroke-width="2"/>
<text x="773.6" y="275" font-size="16.8" font-weight="normal" fill="#000" text-anchor="end" >2500</text>
<line x1="774.5" y1="279.4" x2="780.5" y2="279.4" stroke="#777" stroke-width="1.1"/>
<line x1="774.5" y1="289.1" x2="780.5" y2="289.1" stroke="#777" stroke-width="1.1"/>
<line x1="774.5" y1="298.8" x2="780.5" y2="298.8" stroke="#777" stroke-width="1.1"/>
<line x1="774.5" y1="308.5" x2="780.5" y2="308.5" stroke="#777" stroke-width="1.1"/>
<line x1="775" y1="317.4" x2="780.5" y2="317.4" stroke="#000" stroke-width="2"/>
<text x="773.6" y="323.5" font-size="16.8" font-weight="normal" fill="#000" text-anchor="end" >3000</text>
<line x1="774.5" y1="327.9" x2="780.5" y2="327.9" stroke="#777" stroke-width="1.1"/>
<line x1="774.5" y1="337.6" x2="780.5" y2="337.6" stroke="#777" stroke-width="1.1"/>
<line x1="774.5" y1="347.3" x2="780.5" y2="347.3" stroke="#777" stroke-width="1.1"/>
<line x1="774.5" y1="357" x2="780.5" y2="357" stroke="#777" stroke-width="1.1"/>
<line x1="775" y1="365.9" x2="780.5" y2="365.9" stroke="#000" stroke-width="2"/>
<text x="773.6" y="372" font-size="16.8" font-weight="normal" fill="#000" text-anchor="end" >3500</text>
<line x1="774.5" y1="376.4" x2="780.5" y2="376.4" stroke="#777" stroke-width="1.1"/>
<line x1="774.5" y1="386.1" x2="780.5" y2="386.1" stroke="#777" stroke-width="1.1"/>
<line x1="774.5" y1="395.8" x2="780.5" y2="395.8" stroke="#777" stroke-width="1.1"/>
<line x1="774.5" y1="405.5" x2="780.5" y2="405.5" stroke="#777" stroke-width="1.1"/>
<line x1="775" y1="414.4" x2="780.5" y2="414.4" stroke="#000" stroke-width="2"/>
<text x="773.6" y="420.5" font-size="16.8" font-weight="normal" fill="#000" text-anchor="end" >4000</text>
<line x1="774.5" y1="424.9" x2="780.5" y2="424.9" stroke="#777" stroke-width="1.1"/>
<line x1="774.5" y1="434.6" x2="780.5" y2="434.6" stroke="#777" stroke-width="1.1"/>
<line x1="774.5" y1="444.3" x2="780.5" y2="444.3" stroke="#777" stroke-width="1.1"/>
<line x1="774.5" y1="454" x2="780.5" y2="454" stroke="#777" stroke-width="1.1"/>
<line x1="775" y1="462.9" x2="780.5" y2="462.9" stroke="#000" stroke-width="2"/>
<text x="773.6" y="469" font-size="16.8" font-weight="normal" fill="#000" text-anchor="end" >4500</text>
<line x1="779.5" y1="462.9" x2="951.9" y2="462.9" stroke="#000" stroke-width="2.4"/>
<line x1="780.5" y1="462.9" x2="780.5" y2="475" stroke="#000" stroke-width="2.1"/>
<text x="780.5" y="489.7" font-size="16.8" font-weight="normal" fill="#000" text-anchor="middle" >0</text>
<line x1="791.85" y1="462.9" x2="791.85" y2="469.2" stroke="#777" stroke-width="1"/>
<line x1="803.19" y1="462.9" x2="803.19" y2="469.2" stroke="#777" stroke-width="1"/>
<line x1="814.54" y1="462.9" x2="814.54" y2="469.2" stroke="#777" stroke-width="1"/>
<line x1="825.89" y1="462.9" x2="825.89" y2="469.2" stroke="#777" stroke-width="1"/>
<line x1="837.23" y1="462.9" x2="837.23" y2="475" stroke="#000" stroke-width="2.1"/>
<text x="837.23" y="489.7" font-size="16.8" font-weight="normal" fill="#000" text-anchor="middle" >50</text>
<line x1="848.58" y1="462.9" x2="848.58" y2="469.2" stroke="#777" stroke-width="1"/>
<line x1="859.93" y1="462.9" x2="859.93" y2="469.2" stroke="#777" stroke-width="1"/>
<line x1="871.27" y1="462.9" x2="871.27" y2="469.2" stroke="#777" stroke-width="1"/>
<line x1="882.62" y1="462.9" x2="882.62" y2="469.2" stroke="#777" stroke-width="1"/>
<line x1="893.97" y1="462.9" x2="893.97" y2="475" stroke="#000" stroke-width="2.1"/>
<text x="893.97" y="489.7" font-size="16.8" font-weight="normal" fill="#000" text-anchor="middle" >100</text>
<line x1="905.31" y1="462.9" x2="905.31" y2="469.2" stroke="#777" stroke-width="1"/>
<line x1="916.66" y1="462.9" x2="916.66" y2="469.2" stroke="#777" stroke-width="1"/>
<line x1="928.01" y1="462.9" x2="928.01" y2="469.2" stroke="#777" stroke-width="1"/>
<line x1="939.35" y1="462.9" x2="939.35" y2="469.2" stroke="#777" stroke-width="1"/>
<line x1="950.7" y1="462.9" x2="950.7" y2="475" stroke="#000" stroke-width="2.1"/>
<text x="950.7" y="489.7" font-size="16.8" font-weight="normal" fill="#000" text-anchor="middle" >150</text>
<text x="866.4" y="511.3" font-size="20.7" font-weight="bold" fill="#000" text-anchor="middle" >Temperature (°C)</text>
<text x="0" y="0" font-size="20" font-weight="bold" fill="#000" text-anchor="middle" transform="translate(723.9,245) rotate(-90)">Depth (m)</text>
<polyline points="806.7,27.4 810.9,38.5 813.2,40.4 817.4,42 821.3,46.7 826.6,58.3 828.3,64 829.4,69.9 832.2,76.8 832.9,83.8 836.4,94.2 838.7,102.3 839.9,108.1 844.5,119.7 849.1,130.1 852,139.3 855.5,150.9 859,164.8 863.6,176.4 865.9,188 868.3,199.6 870.6,211.2 875.2,222.8 879.9,236.7 885.1,253.9 888.6,267.8 893.2,281.7 897.4,291 898.3,298 902.5,309.6 904.3,316.5 905.2,328.1 908.3,339.7 912.9,357.1 916,363.9 919,382.5 921.3,396.4 923.2,410.3 924.8,424.2 927.1,442.8 929.9,459" fill="none" stroke="#d00000" stroke-width="2.2" stroke-linejoin="round" stroke-linecap="round"/>
<line x1="867.1" y1="201.9" x2="852" y2="224" stroke="#f00000" stroke-width="1.3" stroke-dasharray="2.5,1.8"/>
<polygon points="848.5,229.8 856,225.8 850,222.1" fill="#f00000"/>
<text x="797" y="241.8" font-size="13.5" font-weight="bold" fill="#000" text-anchor="start" >Original</text>
<text x="797" y="257.7" font-size="13.5" font-weight="bold" fill="#000" text-anchor="start" >formation</text>
<text x="797" y="273.5" font-size="13.5" font-weight="bold" fill="#000" text-anchor="start" >temperature</text>
<text x="983.4" y="98.6" font-size="16.2" font-weight="normal" fill="#000" text-anchor="end" >244.5mm</text>
<text x="978.4" y="120.5" font-size="16.2" font-weight="normal" fill="#000" text-anchor="end" >752m</text>
<text x="984" y="324.7" font-size="16.2" font-weight="normal" fill="#000" text-anchor="end" >177.8mm</text>
<text x="987.2" y="345.4" font-size="16.2" font-weight="normal" fill="#000" text-anchor="end" >3105m</text>
<text x="993.3" y="425.6" font-size="16.2" font-weight="normal" fill="#000" text-anchor="end" >127.0mm</text>
<text x="993.3" y="447.2" font-size="16.2" font-weight="normal" fill="#000" text-anchor="end" >4149m</text>
<rect x="996.2" y="365.6" width="50" height="96.9" fill="#e6e6e6" stroke="#000" stroke-width="2.1"/>
<rect x="992.1" y="123.9" width="58.8" height="241.7" fill="#e6e6e6" stroke="#000" stroke-width="2"/>
<rect x="987.1" y="27.6" width="68" height="96.3" fill="#e6e6e6" stroke="#000" stroke-width="2.1"/>
<rect x="1003.9" y="327.8" width="35" height="102.6" fill="#ebebeb" />
<rect x="1003.9" y="327.8" width="8.5" height="102.6" fill="url(#shL)" />
<rect x="1030.4" y="327.8" width="8.5" height="102.6" fill="url(#shR)" />
<rect x="1003.9" y="421.9" width="35" height="8.5" fill="url(#shB)" />
<rect x="1001.1" y="103.5" width="41.7" height="224.3" fill="#ebebeb" />
<rect x="1001.1" y="103.5" width="8.5" height="224.3" fill="url(#shL)" />
<rect x="1034.3" y="103.5" width="8.5" height="224.3" fill="url(#shR)" />
<rect x="1001.1" y="103.5" width="41.7" height="8.5" fill="url(#shT)" />
<rect x="1001.1" y="319.3" width="41.7" height="8.5" fill="url(#shB)" />
<rect x="995.9" y="28.6" width="50.9" height="74.9" fill="#ebebeb" />
<rect x="995.9" y="28.6" width="8.5" height="74.9" fill="url(#shL)" />
<rect x="1038.3" y="28.6" width="8.5" height="74.9" fill="url(#shR)" />
<rect x="995.9" y="28.6" width="50.9" height="8.5" fill="url(#shT)" />
<rect x="995.9" y="95" width="50.9" height="8.5" fill="url(#shB)" />
<line x1="986.1" y1="27.6" x2="1056.1" y2="27.6" stroke="#000" stroke-width="2.1"/>
<text x="0" y="0" font-size="23.8" font-weight="bold" fill="#000" text-anchor="middle" transform="translate(1030.2,214.5) rotate(-90)">SLGHP</text>
<line x1="781.5" y1="102.5" x2="1015.9" y2="102.5" stroke="#000" stroke-width="1.1" stroke-dasharray="2.7,1.95"/>
<line x1="781.5" y1="328.3" x2="1016" y2="328.3" stroke="#000" stroke-width="1.1" stroke-dasharray="2.7,1.95"/>
<line x1="786.8" y1="430.5" x2="1022.2" y2="430.5" stroke="#000" stroke-width="1.1" stroke-dasharray="2.7,1.95"/>
<rect x="1068.5" y="27.4" width="38.2" height="436" fill="#fff" />
<rect x="1072" y="27.4" width="1" height="45.6" fill="#000" />
<rect x="1076" y="27.4" width="1" height="45.6" fill="#000" />
<rect x="1080" y="27.4" width="1" height="45.6" fill="#000" />
<rect x="1084" y="27.4" width="1" height="45.6" fill="#000" />
<rect x="1088" y="27.4" width="1" height="45.6" fill="#000" />
<rect x="1092" y="27.4" width="1" height="45.6" fill="#000" />
<rect x="1096" y="27.4" width="1" height="45.6" fill="#000" />
<rect x="1100" y="27.4" width="1" height="45.6" fill="#000" />
<rect x="1104" y="27.4" width="1" height="45.6" fill="#000" />
<rect x="1072" y="73.4" width="1" height="103.3" fill="#000" />
<rect x="1080" y="73.4" width="1" height="103.3" fill="#000" />
<rect x="1088" y="73.4" width="1" height="103.3" fill="#000" />
<rect x="1096" y="73.4" width="1" height="103.3" fill="#000" />
<rect x="1104" y="73.4" width="1" height="103.3" fill="#000" />
<rect x="1068.5" y="80" width="38.2" height="1" fill="#000" />
<rect x="1068.5" y="88" width="38.2" height="1" fill="#000" />
<rect x="1068.5" y="96" width="38.2" height="1" fill="#000" />
<rect x="1068.5" y="104" width="38.2" height="1" fill="#000" />
<rect x="1068.5" y="112" width="38.2" height="1" fill="#000" />
<rect x="1068.5" y="120" width="38.2" height="1" fill="#000" />
<rect x="1068.5" y="128" width="38.2" height="1" fill="#000" />
<rect x="1068.5" y="136" width="38.2" height="1" fill="#000" />
<rect x="1068.5" y="144" width="38.2" height="1" fill="#000" />
<rect x="1068.5" y="152" width="38.2" height="1" fill="#000" />
<rect x="1068.5" y="160" width="38.2" height="1" fill="#000" />
<rect x="1068.5" y="168" width="38.2" height="1" fill="#000" />
<g clip-path="url(#cMud)" stroke="#000" stroke-width="2.35"><line x1="1047" y1="170" x2="1005" y2="212"/><line x1="1054.9" y1="170" x2="1012.9" y2="212"/><line x1="1062.8" y1="170" x2="1020.8" y2="212"/><line x1="1070.7" y1="170" x2="1028.7" y2="212"/><line x1="1078.6" y1="170" x2="1036.6" y2="212"/><line x1="1086.5" y1="170" x2="1044.5" y2="212"/><line x1="1094.4" y1="170" x2="1052.4" y2="212"/><line x1="1102.3" y1="170" x2="1060.3" y2="212"/><line x1="1110.2" y1="170" x2="1068.2" y2="212"/><line x1="1118.1" y1="170" x2="1076.1" y2="212"/><line x1="1126" y1="170" x2="1084" y2="212"/><line x1="1133.9" y1="170" x2="1091.9" y2="212"/><line x1="1141.8" y1="170" x2="1099.8" y2="212"/><line x1="1149.7" y1="170" x2="1107.7" y2="212"/><line x1="1157.6" y1="170" x2="1115.6" y2="212"/><line x1="1165.5" y1="170" x2="1123.5" y2="212"/><line x1="1173.4" y1="170" x2="1131.4" y2="212"/><line x1="1181.3" y1="170" x2="1139.3" y2="212"/></g>
<g clip-path="url(#cSand)" stroke="#000" stroke-width="1" shape-rendering="crispEdges"><line x1="997.9" y1="200" x2="941.9" y2="256"/><line x1="985.1" y1="200" x2="1041.1" y2="256"/><line x1="1005.9" y1="200" x2="949.9" y2="256"/><line x1="993.1" y1="200" x2="1049.1" y2="256"/><line x1="1013.9" y1="200" x2="957.9" y2="256"/><line x1="1001.1" y1="200" x2="1057.1" y2="256"/><line x1="1021.9" y1="200" x2="965.9" y2="256"/><line x1="1009.1" y1="200" x2="1065.1" y2="256"/><line x1="1029.9" y1="200" x2="973.9" y2="256"/><line x1="1017.1" y1="200" x2="1073.1" y2="256"/><line x1="1037.9" y1="200" x2="981.9" y2="256"/><line x1="1025.1" y1="200" x2="1081.1" y2="256"/><line x1="1045.9" y1="200" x2="989.9" y2="256"/><line x1="1033.1" y1="200" x2="1089.1" y2="256"/><line x1="1053.9" y1="200" x2="997.9" y2="256"/><line x1="1041.1" y1="200" x2="1097.1" y2="256"/><line x1="1061.9" y1="200" x2="1005.9" y2="256"/><line x1="1049.1" y1="200" x2="1105.1" y2="256"/><line x1="1069.9" y1="200" x2="1013.9" y2="256"/><line x1="1057.1" y1="200" x2="1113.1" y2="256"/><line x1="1077.9" y1="200" x2="1021.9" y2="256"/><line x1="1065.1" y1="200" x2="1121.1" y2="256"/><line x1="1085.9" y1="200" x2="1029.9" y2="256"/><line x1="1073.1" y1="200" x2="1129.1" y2="256"/><line x1="1093.9" y1="200" x2="1037.9" y2="256"/><line x1="1081.1" y1="200" x2="1137.1" y2="256"/><line x1="1101.9" y1="200" x2="1045.9" y2="256"/><line x1="1089.1" y1="200" x2="1145.1" y2="256"/><line x1="1109.9" y1="200" x2="1053.9" y2="256"/><line x1="1097.1" y1="200" x2="1153.1" y2="256"/><line x1="1117.9" y1="200" x2="1061.9" y2="256"/><line x1="1105.1" y1="200" x2="1161.1" y2="256"/><line x1="1125.9" y1="200" x2="1069.9" y2="256"/><line x1="1113.1" y1="200" x2="1169.1" y2="256"/><line x1="1133.9" y1="200" x2="1077.9" y2="256"/><line x1="1121.1" y1="200" x2="1177.1" y2="256"/><line x1="1141.9" y1="200" x2="1085.9" y2="256"/><line x1="1129.1" y1="200" x2="1185.1" y2="256"/><line x1="1149.9" y1="200" x2="1093.9" y2="256"/><line x1="1137.1" y1="200" x2="1193.1" y2="256"/><line x1="1157.9" y1="200" x2="1101.9" y2="256"/><line x1="1145.1" y1="200" x2="1201.1" y2="256"/><line x1="1165.9" y1="200" x2="1109.9" y2="256"/><line x1="1153.1" y1="200" x2="1209.1" y2="256"/><line x1="1173.9" y1="200" x2="1117.9" y2="256"/><line x1="1161.1" y1="200" x2="1217.1" y2="256"/><line x1="1181.9" y1="200" x2="1125.9" y2="256"/><line x1="1169.1" y1="200" x2="1225.1" y2="256"/></g>
<g clip-path="url(#cCong)" stroke="#000" stroke-width="2.35"><line x1="979.2" y1="245" x2="1041.2" y2="307"/><line x1="987.25" y1="245" x2="1049.25" y2="307"/><line x1="995.3" y1="245" x2="1057.3" y2="307"/><line x1="1003.35" y1="245" x2="1065.35" y2="307"/><line x1="1011.4" y1="245" x2="1073.4" y2="307"/><line x1="1019.45" y1="245" x2="1081.45" y2="307"/><line x1="1027.5" y1="245" x2="1089.5" y2="307"/><line x1="1035.55" y1="245" x2="1097.55" y2="307"/><line x1="1043.6" y1="245" x2="1105.6" y2="307"/><line x1="1051.65" y1="245" x2="1113.65" y2="307"/><line x1="1059.7" y1="245" x2="1121.7" y2="307"/><line x1="1067.75" y1="245" x2="1129.75" y2="307"/><line x1="1075.8" y1="245" x2="1137.8" y2="307"/><line x1="1083.85" y1="245" x2="1145.85" y2="307"/><line x1="1091.9" y1="245" x2="1153.9" y2="307"/><line x1="1099.95" y1="245" x2="1161.95" y2="307"/><line x1="1108" y1="245" x2="1170" y2="307"/><line x1="1116.05" y1="245" x2="1178.05" y2="307"/><line x1="1124.1" y1="245" x2="1186.1" y2="307"/><line x1="1132.15" y1="245" x2="1194.15" y2="307"/><line x1="1140.2" y1="245" x2="1202.2" y2="307"/><line x1="1148.25" y1="245" x2="1210.25" y2="307"/></g>
<rect x="1068.5" y="304" width="38.2" height="1" fill="#000" />
<rect x="1068.5" y="308" width="38.2" height="1" fill="#000" />
<rect x="1068.5" y="312" width="38.2" height="1" fill="#000" />
<rect x="1068.5" y="316" width="38.2" height="1" fill="#000" />
<rect x="1068.5" y="320" width="38.2" height="1" fill="#000" />
<rect x="1068.5" y="324" width="38.2" height="1" fill="#000" />
<rect x="1068.5" y="328" width="38.2" height="1" fill="#000" />
<rect x="1068.5" y="332" width="38.2" height="1" fill="#000" />
<rect x="1068.5" y="336" width="38.2" height="1" fill="#000" />
<rect x="1068.5" y="340" width="38.2" height="1" fill="#000" />
<rect x="1068.5" y="344" width="38.2" height="1" fill="#000" />
<rect x="1068.5" y="348" width="38.2" height="1" fill="#000" />
<rect x="1068.5" y="352" width="38.2" height="1" fill="#000" />
<rect x="1068.5" y="356" width="38.2" height="1" fill="#000" />
<rect x="1068.5" y="360.4" width="38.2" height="2.2" fill="#000" />
<rect x="1070.3" y="361" width="1.9" height="0.95" fill="#fff" />
<rect x="1074.39" y="361" width="1.9" height="0.95" fill="#fff" />
<rect x="1078.48" y="361" width="1.9" height="0.95" fill="#fff" />
<rect x="1082.57" y="361" width="1.9" height="0.95" fill="#fff" />
<rect x="1086.66" y="361" width="1.9" height="0.95" fill="#fff" />
<rect x="1090.75" y="361" width="1.9" height="0.95" fill="#fff" />
<rect x="1094.84" y="361" width="1.9" height="0.95" fill="#fff" />
<rect x="1098.93" y="361" width="1.9" height="0.95" fill="#fff" />
<rect x="1103.02" y="361" width="1.9" height="0.95" fill="#fff" />
<g clip-path="url(#cWave)" fill="none" stroke="#000" stroke-width="1.15"><polyline points="1064,360.17 1064.5,360.45 1065,360.85 1065.5,361.31 1066,361.76 1066.5,362.13 1067,362.37 1067.5,362.44 1068,362.33 1068.5,362.06 1069,361.67 1069.5,361.22 1070,360.76 1070.5,360.38 1071,360.13 1071.5,360.04 1072,360.13 1072.5,360.38 1073,360.76 1073.5,361.22 1074,361.67 1074.5,362.06 1075,362.33 1075.5,362.44 1076,362.37 1076.5,362.13 1077,361.76 1077.5,361.31 1078,360.85 1078.5,360.45 1079,360.17 1079.5,360.04 1080,360.1 1080.5,360.32 1081,360.68 1081.5,361.12 1082,361.58 1082.5,361.99 1083,362.29 1083.5,362.43 1084,362.4 1084.5,362.19 1085,361.84 1085.5,361.4 1086,360.94 1086.5,360.52 1087,360.21 1087.5,360.05 1088,360.07 1088.5,360.26 1089,360.6 1089.5,361.03 1090,361.49 1090.5,361.92 1091,362.24 1091.5,362.42 1092,362.42 1092.5,362.24 1093,361.92 1093.5,361.49 1094,361.03 1094.5,360.6 1095,360.26 1095.5,360.07 1096,360.05 1096.5,360.21 1097,360.52 1097.5,360.94 1098,361.4 1098.5,361.84 1099,362.19 1099.5,362.4 1100,362.43 1100.5,362.29 1101,361.99 1101.5,361.58 1102,361.12 1102.5,360.68 1103,360.32 1103.5,360.1 1104,360.04 1104.5,360.17 1105,360.45 1105.5,360.85 1106,361.31 1106.5,361.76 1107,362.13 1107.5,362.37 1108,362.44 1108.5,362.33 1109,362.06 1109.5,361.67 1110,361.22"/><polyline points="1064,364.13 1064.5,364.41 1065,364.81 1065.5,365.27 1066,365.72 1066.5,366.09 1067,366.33 1067.5,366.4 1068,366.29 1068.5,366.02 1069,365.63 1069.5,365.18 1070,364.72 1070.5,364.34 1071,364.09 1071.5,364 1072,364.09 1072.5,364.34 1073,364.72 1073.5,365.18 1074,365.63 1074.5,366.02 1075,366.29 1075.5,366.4 1076,366.33 1076.5,366.09 1077,365.72 1077.5,365.27 1078,364.81 1078.5,364.41 1079,364.13 1079.5,364 1080,364.06 1080.5,364.28 1081,364.64 1081.5,365.08 1082,365.54 1082.5,365.95 1083,366.25 1083.5,366.39 1084,366.36 1084.5,366.15 1085,365.8 1085.5,365.36 1086,364.9 1086.5,364.48 1087,364.17 1087.5,364.01 1088,364.03 1088.5,364.22 1089,364.56 1089.5,364.99 1090,365.45 1090.5,365.88 1091,366.2 1091.5,366.38 1092,366.38 1092.5,366.2 1093,365.88 1093.5,365.45 1094,364.99 1094.5,364.56 1095,364.22 1095.5,364.03 1096,364.01 1096.5,364.17 1097,364.48 1097.5,364.9 1098,365.36 1098.5,365.8 1099,366.15 1099.5,366.36 1100,366.39 1100.5,366.25 1101,365.95 1101.5,365.54 1102,365.08 1102.5,364.64 1103,364.28 1103.5,364.06 1104,364 1104.5,364.13 1105,364.41 1105.5,364.81 1106,365.27 1106.5,365.72 1107,366.09 1107.5,366.33 1108,366.4 1108.5,366.29 1109,366.02 1109.5,365.63 1110,365.18"/><polyline points="1064,368.09 1064.5,368.37 1065,368.77 1065.5,369.23 1066,369.68 1066.5,370.05 1067,370.29 1067.5,370.36 1068,370.25 1068.5,369.98 1069,369.59 1069.5,369.14 1070,368.68 1070.5,368.3 1071,368.05 1071.5,367.96 1072,368.05 1072.5,368.3 1073,368.68 1073.5,369.14 1074,369.59 1074.5,369.98 1075,370.25 1075.5,370.36 1076,370.29 1076.5,370.05 1077,369.68 1077.5,369.23 1078,368.77 1078.5,368.37 1079,368.09 1079.5,367.96 1080,368.02 1080.5,368.24 1081,368.6 1081.5,369.04 1082,369.5 1082.5,369.91 1083,370.21 1083.5,370.35 1084,370.32 1084.5,370.11 1085,369.76 1085.5,369.32 1086,368.86 1086.5,368.44 1087,368.13 1087.5,367.97 1088,367.99 1088.5,368.18 1089,368.52 1089.5,368.95 1090,369.41 1090.5,369.84 1091,370.16 1091.5,370.34 1092,370.34 1092.5,370.16 1093,369.84 1093.5,369.41 1094,368.95 1094.5,368.52 1095,368.18 1095.5,367.99 1096,367.97 1096.5,368.13 1097,368.44 1097.5,368.86 1098,369.32 1098.5,369.76 1099,370.11 1099.5,370.32 1100,370.35 1100.5,370.21 1101,369.91 1101.5,369.5 1102,369.04 1102.5,368.6 1103,368.24 1103.5,368.02 1104,367.96 1104.5,368.09 1105,368.37 1105.5,368.77 1106,369.23 1106.5,369.68 1107,370.05 1107.5,370.29 1108,370.36 1108.5,370.25 1109,369.98 1109.5,369.59 1110,369.14"/><polyline points="1064,372.05 1064.5,372.33 1065,372.73 1065.5,373.19 1066,373.64 1066.5,374.01 1067,374.25 1067.5,374.32 1068,374.21 1068.5,373.94 1069,373.55 1069.5,373.1 1070,372.64 1070.5,372.26 1071,372.01 1071.5,371.92 1072,372.01 1072.5,372.26 1073,372.64 1073.5,373.1 1074,373.55 1074.5,373.94 1075,374.21 1075.5,374.32 1076,374.25 1076.5,374.01 1077,373.64 1077.5,373.19 1078,372.73 1078.5,372.33 1079,372.05 1079.5,371.92 1080,371.98 1080.5,372.2 1081,372.56 1081.5,373 1082,373.46 1082.5,373.87 1083,374.17 1083.5,374.31 1084,374.28 1084.5,374.07 1085,373.72 1085.5,373.28 1086,372.82 1086.5,372.4 1087,372.09 1087.5,371.93 1088,371.95 1088.5,372.14 1089,372.48 1089.5,372.91 1090,373.37 1090.5,373.8 1091,374.12 1091.5,374.3 1092,374.3 1092.5,374.12 1093,373.8 1093.5,373.37 1094,372.91 1094.5,372.48 1095,372.14 1095.5,371.95 1096,371.93 1096.5,372.09 1097,372.4 1097.5,372.82 1098,373.28 1098.5,373.72 1099,374.07 1099.5,374.28 1100,374.31 1100.5,374.17 1101,373.87 1101.5,373.46 1102,373 1102.5,372.56 1103,372.2 1103.5,371.98 1104,371.92 1104.5,372.05 1105,372.33 1105.5,372.73 1106,373.19 1106.5,373.64 1107,374.01 1107.5,374.25 1108,374.32 1108.5,374.21 1109,373.94 1109.5,373.55 1110,373.1"/><polyline points="1064,376.01 1064.5,376.29 1065,376.69 1065.5,377.15 1066,377.6 1066.5,377.97 1067,378.21 1067.5,378.28 1068,378.17 1068.5,377.9 1069,377.51 1069.5,377.06 1070,376.6 1070.5,376.22 1071,375.97 1071.5,375.88 1072,375.97 1072.5,376.22 1073,376.6 1073.5,377.06 1074,377.51 1074.5,377.9 1075,378.17 1075.5,378.28 1076,378.21 1076.5,377.97 1077,377.6 1077.5,377.15 1078,376.69 1078.5,376.29 1079,376.01 1079.5,375.88 1080,375.94 1080.5,376.16 1081,376.52 1081.5,376.96 1082,377.42 1082.5,377.83 1083,378.13 1083.5,378.27 1084,378.24 1084.5,378.03 1085,377.68 1085.5,377.24 1086,376.78 1086.5,376.36 1087,376.05 1087.5,375.89 1088,375.91 1088.5,376.1 1089,376.44 1089.5,376.87 1090,377.33 1090.5,377.76 1091,378.08 1091.5,378.26 1092,378.26 1092.5,378.08 1093,377.76 1093.5,377.33 1094,376.87 1094.5,376.44 1095,376.1 1095.5,375.91 1096,375.89 1096.5,376.05 1097,376.36 1097.5,376.78 1098,377.24 1098.5,377.68 1099,378.03 1099.5,378.24 1100,378.27 1100.5,378.13 1101,377.83 1101.5,377.42 1102,376.96 1102.5,376.52 1103,376.16 1103.5,375.94 1104,375.88 1104.5,376.01 1105,376.29 1105.5,376.69 1106,377.15 1106.5,377.6 1107,377.97 1107.5,378.21 1108,378.28 1108.5,378.17 1109,377.9 1109.5,377.51 1110,377.06"/><polyline points="1064,379.97 1064.5,380.25 1065,380.65 1065.5,381.11 1066,381.56 1066.5,381.93 1067,382.17 1067.5,382.24 1068,382.13 1068.5,381.86 1069,381.47 1069.5,381.02 1070,380.56 1070.5,380.18 1071,379.93 1071.5,379.84 1072,379.93 1072.5,380.18 1073,380.56 1073.5,381.02 1074,381.47 1074.5,381.86 1075,382.13 1075.5,382.24 1076,382.17 1076.5,381.93 1077,381.56 1077.5,381.11 1078,380.65 1078.5,380.25 1079,379.97 1079.5,379.84 1080,379.9 1080.5,380.12 1081,380.48 1081.5,380.92 1082,381.38 1082.5,381.79 1083,382.09 1083.5,382.23 1084,382.2 1084.5,381.99 1085,381.64 1085.5,381.2 1086,380.74 1086.5,380.32 1087,380.01 1087.5,379.85 1088,379.87 1088.5,380.06 1089,380.4 1089.5,380.83 1090,381.29 1090.5,381.72 1091,382.04 1091.5,382.22 1092,382.22 1092.5,382.04 1093,381.72 1093.5,381.29 1094,380.83 1094.5,380.4 1095,380.06 1095.5,379.87 1096,379.85 1096.5,380.01 1097,380.32 1097.5,380.74 1098,381.2 1098.5,381.64 1099,381.99 1099.5,382.2 1100,382.23 1100.5,382.09 1101,381.79 1101.5,381.38 1102,380.92 1102.5,380.48 1103,380.12 1103.5,379.9 1104,379.84 1104.5,379.97 1105,380.25 1105.5,380.65 1106,381.11 1106.5,381.56 1107,381.93 1107.5,382.17 1108,382.24 1108.5,382.13 1109,381.86 1109.5,381.47 1110,381.02"/><polyline points="1064,383.93 1064.5,384.21 1065,384.61 1065.5,385.07 1066,385.52 1066.5,385.89 1067,386.13 1067.5,386.2 1068,386.09 1068.5,385.82 1069,385.43 1069.5,384.98 1070,384.52 1070.5,384.14 1071,383.89 1071.5,383.8 1072,383.89 1072.5,384.14 1073,384.52 1073.5,384.98 1074,385.43 1074.5,385.82 1075,386.09 1075.5,386.2 1076,386.13 1076.5,385.89 1077,385.52 1077.5,385.07 1078,384.61 1078.5,384.21 1079,383.93 1079.5,383.8 1080,383.86 1080.5,384.08 1081,384.44 1081.5,384.88 1082,385.34 1082.5,385.75 1083,386.05 1083.5,386.19 1084,386.16 1084.5,385.95 1085,385.6 1085.5,385.16 1086,384.7 1086.5,384.28 1087,383.97 1087.5,383.81 1088,383.83 1088.5,384.02 1089,384.36 1089.5,384.79 1090,385.25 1090.5,385.68 1091,386 1091.5,386.18 1092,386.18 1092.5,386 1093,385.68 1093.5,385.25 1094,384.79 1094.5,384.36 1095,384.02 1095.5,383.83 1096,383.81 1096.5,383.97 1097,384.28 1097.5,384.7 1098,385.16 1098.5,385.6 1099,385.95 1099.5,386.16 1100,386.19 1100.5,386.05 1101,385.75 1101.5,385.34 1102,384.88 1102.5,384.44 1103,384.08 1103.5,383.86 1104,383.8 1104.5,383.93 1105,384.21 1105.5,384.61 1106,385.07 1106.5,385.52 1107,385.89 1107.5,386.13 1108,386.2 1108.5,386.09 1109,385.82 1109.5,385.43 1110,384.98"/></g>
<g clip-path="url(#cChk)" fill="#000"><rect x="1072" y="383.8" width="4" height="4.02"/><rect x="1080" y="383.8" width="4" height="4.02"/><rect x="1088" y="383.8" width="4" height="4.02"/><rect x="1096" y="383.8" width="4" height="4.02"/><rect x="1104" y="383.8" width="4" height="4.02"/><rect x="1068" y="387.82" width="4" height="4.02"/><rect x="1076" y="387.82" width="4" height="4.02"/><rect x="1084" y="387.82" width="4" height="4.02"/><rect x="1092" y="387.82" width="4" height="4.02"/><rect x="1100" y="387.82" width="4" height="4.02"/><rect x="1072" y="391.84" width="4" height="4.02"/><rect x="1080" y="391.84" width="4" height="4.02"/><rect x="1088" y="391.84" width="4" height="4.02"/><rect x="1096" y="391.84" width="4" height="4.02"/><rect x="1104" y="391.84" width="4" height="4.02"/><rect x="1068" y="395.86" width="4" height="4.02"/><rect x="1076" y="395.86" width="4" height="4.02"/><rect x="1084" y="395.86" width="4" height="4.02"/><rect x="1092" y="395.86" width="4" height="4.02"/><rect x="1100" y="395.86" width="4" height="4.02"/><rect x="1072" y="399.88" width="4" height="4.02"/><rect x="1080" y="399.88" width="4" height="4.02"/><rect x="1088" y="399.88" width="4" height="4.02"/><rect x="1096" y="399.88" width="4" height="4.02"/><rect x="1104" y="399.88" width="4" height="4.02"/><rect x="1068" y="403.9" width="4" height="4.02"/><rect x="1076" y="403.9" width="4" height="4.02"/><rect x="1084" y="403.9" width="4" height="4.02"/><rect x="1092" y="403.9" width="4" height="4.02"/><rect x="1100" y="403.9" width="4" height="4.02"/><rect x="1072" y="407.92" width="4" height="4.02"/><rect x="1080" y="407.92" width="4" height="4.02"/><rect x="1088" y="407.92" width="4" height="4.02"/><rect x="1096" y="407.92" width="4" height="4.02"/><rect x="1104" y="407.92" width="4" height="4.02"/><rect x="1068" y="411.94" width="4" height="4.02"/><rect x="1076" y="411.94" width="4" height="4.02"/><rect x="1084" y="411.94" width="4" height="4.02"/><rect x="1092" y="411.94" width="4" height="4.02"/><rect x="1100" y="411.94" width="4" height="4.02"/><rect x="1072" y="415.96" width="4" height="4.02"/><rect x="1080" y="415.96" width="4" height="4.02"/><rect x="1088" y="415.96" width="4" height="4.02"/><rect x="1096" y="415.96" width="4" height="4.02"/><rect x="1104" y="415.96" width="4" height="4.02"/><rect x="1068" y="419.98" width="4" height="4.02"/><rect x="1076" y="419.98" width="4" height="4.02"/><rect x="1084" y="419.98" width="4" height="4.02"/><rect x="1092" y="419.98" width="4" height="4.02"/><rect x="1100" y="419.98" width="4" height="4.02"/><rect x="1072" y="424" width="4" height="4.02"/><rect x="1080" y="424" width="4" height="4.02"/><rect x="1088" y="424" width="4" height="4.02"/><rect x="1096" y="424" width="4" height="4.02"/><rect x="1104" y="424" width="4" height="4.02"/><rect x="1068" y="428.02" width="4" height="4.02"/><rect x="1076" y="428.02" width="4" height="4.02"/><rect x="1084" y="428.02" width="4" height="4.02"/><rect x="1092" y="428.02" width="4" height="4.02"/><rect x="1100" y="428.02" width="4" height="4.02"/><rect x="1072" y="432.04" width="4" height="4.02"/><rect x="1080" y="432.04" width="4" height="4.02"/><rect x="1088" y="432.04" width="4" height="4.02"/><rect x="1096" y="432.04" width="4" height="4.02"/><rect x="1104" y="432.04" width="4" height="4.02"/><rect x="1068" y="436.06" width="4" height="4.02"/><rect x="1076" y="436.06" width="4" height="4.02"/><rect x="1084" y="436.06" width="4" height="4.02"/><rect x="1092" y="436.06" width="4" height="4.02"/><rect x="1100" y="436.06" width="4" height="4.02"/><rect x="1072" y="440.08" width="4" height="4.02"/><rect x="1080" y="440.08" width="4" height="4.02"/><rect x="1088" y="440.08" width="4" height="4.02"/><rect x="1096" y="440.08" width="4" height="4.02"/><rect x="1104" y="440.08" width="4" height="4.02"/><rect x="1068" y="444.1" width="4" height="4.02"/><rect x="1076" y="444.1" width="4" height="4.02"/><rect x="1084" y="444.1" width="4" height="4.02"/><rect x="1092" y="444.1" width="4" height="4.02"/><rect x="1100" y="444.1" width="4" height="4.02"/><rect x="1072" y="448.12" width="4" height="4.02"/><rect x="1080" y="448.12" width="4" height="4.02"/><rect x="1088" y="448.12" width="4" height="4.02"/><rect x="1096" y="448.12" width="4" height="4.02"/><rect x="1104" y="448.12" width="4" height="4.02"/><rect x="1068" y="452.14" width="4" height="4.02"/><rect x="1076" y="452.14" width="4" height="4.02"/><rect x="1084" y="452.14" width="4" height="4.02"/><rect x="1092" y="452.14" width="4" height="4.02"/><rect x="1100" y="452.14" width="4" height="4.02"/><rect x="1072" y="456.16" width="4" height="4.02"/><rect x="1080" y="456.16" width="4" height="4.02"/><rect x="1088" y="456.16" width="4" height="4.02"/><rect x="1096" y="456.16" width="4" height="4.02"/><rect x="1104" y="456.16" width="4" height="4.02"/><rect x="1068" y="460.18" width="4" height="4.02"/><rect x="1076" y="460.18" width="4" height="4.02"/><rect x="1084" y="460.18" width="4" height="4.02"/><rect x="1092" y="460.18" width="4" height="4.02"/><rect x="1100" y="460.18" width="4" height="4.02"/></g>
<line x1="1068.5" y1="73.4" x2="1106.7" y2="73.4" stroke="#1f3864" stroke-width="1.1"/>
<line x1="1068.5" y1="176.6" x2="1106.7" y2="176.6" stroke="#1f3864" stroke-width="1.1"/>
<line x1="1068.5" y1="205.3" x2="1106.7" y2="205.3" stroke="#1f3864" stroke-width="1.1"/>
<line x1="1068.5" y1="250.4" x2="1106.7" y2="250.4" stroke="#1f3864" stroke-width="1.1"/>
<line x1="1068.5" y1="301.2" x2="1106.7" y2="301.2" stroke="#1f3864" stroke-width="1.1"/>
<line x1="1068.5" y1="360.4" x2="1106.7" y2="360.4" stroke="#1f3864" stroke-width="1.1"/>
<line x1="1068.5" y1="383.3" x2="1106.7" y2="383.3" stroke="#1f3864" stroke-width="1.1"/>
<rect x="1068.5" y="27.4" width="38.2" height="436" fill="none" stroke="#1f3864" stroke-width="1.2"/>
<line x1="1107.3" y1="27.4" x2="1140" y2="27.4" stroke="#000" stroke-width="1.2" stroke-dasharray="4.2,3"/>
<line x1="1107.3" y1="73.4" x2="1140" y2="73.4" stroke="#000" stroke-width="1.2" stroke-dasharray="4.2,3"/>
<line x1="1107.3" y1="362.3" x2="1140" y2="362.3" stroke="#000" stroke-width="1.2" stroke-dasharray="4.2,3"/>
<line x1="1107.3" y1="463.4" x2="1140" y2="463.4" stroke="#000" stroke-width="1.2" stroke-dasharray="4.2,3"/>
<text x="1120.2" y="56.2" font-size="13.5" font-weight="bold" fill="#000" text-anchor="start" >Loam</text>
<text x="1117.2" y="192.2" font-size="13.5" font-weight="bold" fill="#000" text-anchor="start" >Mudstone</text>
<text x="1118.3" y="224.1" font-size="13.3" font-weight="bold" fill="#000" text-anchor="start" >Sandstone</text>
<text x="1117.3" y="255.7" font-size="13.35" font-weight="bold" fill="#000" text-anchor="start" >Conglomerate</text>
<text x="1116.2" y="420.8" font-size="13.5" font-weight="bold" fill="#000" text-anchor="start" >Dolomite</text>
</svg>
</body></html>
